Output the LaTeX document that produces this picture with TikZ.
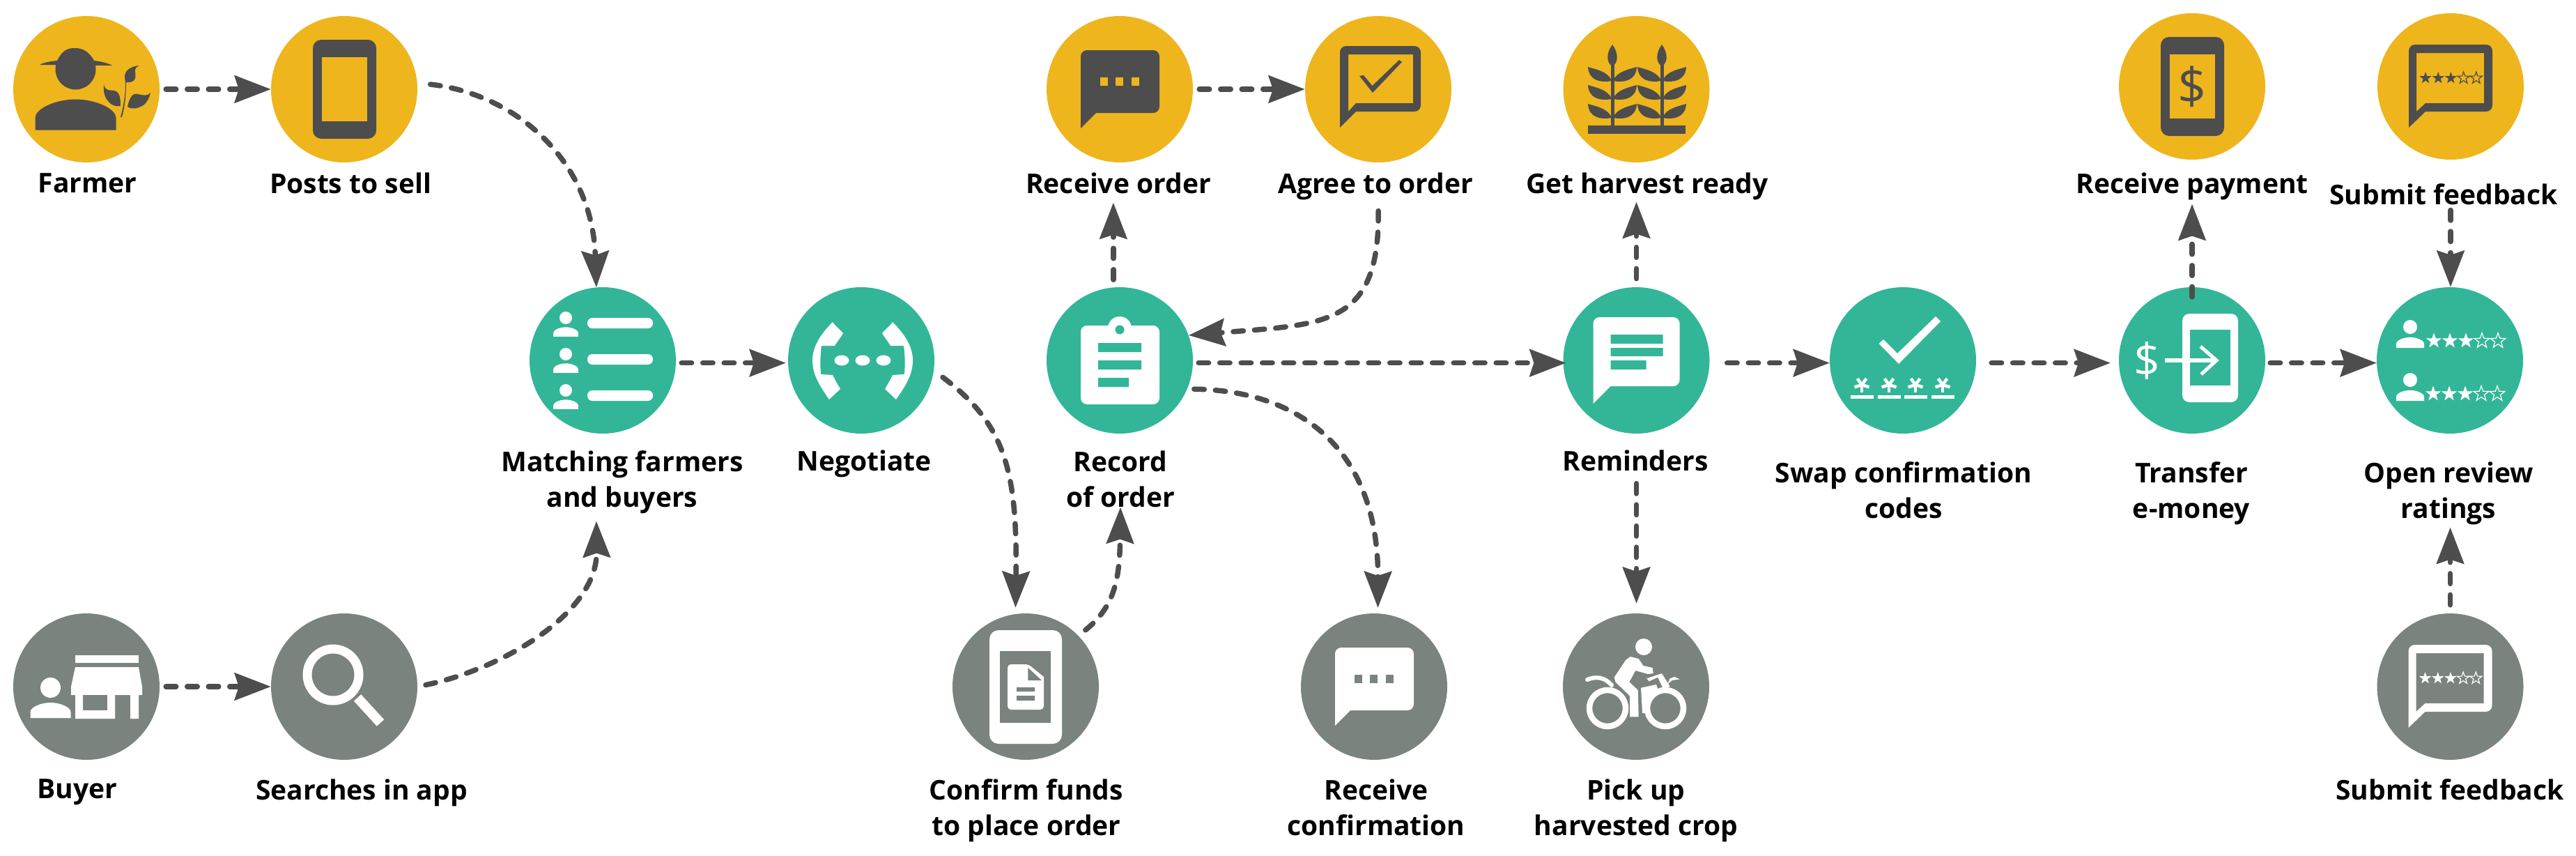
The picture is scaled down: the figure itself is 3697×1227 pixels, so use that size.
\documentclass[tikz,border=0pt]{standalone}
\usepackage{fontspec}
\setmainfont{Open Sans}
\usetikzlibrary{arrows.meta}
\definecolor{cropyellow}{HTML}{EEB51D}
\definecolor{appgreen}{HTML}{32B697}
\definecolor{buyergray}{HTML}{7A837E}
\definecolor{darkicon}{HTML}{4D4D4D}
\tikzset{
  stepdot/.style={circle,minimum size=210pt,inner sep=0pt},
  farmerstep/.style={stepdot,fill=cropyellow},
  buyerstep/.style={stepdot,fill=buyergray},
  appstep/.style={stepdot,fill=appgreen},
  steplabel/.style={font=\fontsize{39}{51}\selectfont\bfseries,align=center,inner sep=0pt,anchor=base},
  flow/.style={draw=darkicon,line width=7.5pt,dash pattern=on 14.5pt off 16pt,line cap=round,
    -{Stealth[length=52pt,width=39pt,inset=6pt,fill=darkicon]}},
}
\newcommand{\personicon}[4]{\fill[#4,shift={(#1,#2)},scale=#3] (0,0) circle (14.5)
  (-29,43.5) -- (-29,35) .. controls (-29,28) and (-14,21.5) .. (0,21.5) .. controls (14,21.5) and (29,28) .. (29,35) -- (29,43.5) -- cycle;}
\newcommand{\bubblepath}[6]{(#1,#6) [rounded corners=9pt] -- (#1,#2) -- (#3,#2) -- (#3,#4) [sharp corners] -- (#5,#4) -- cycle}
\newcommand{\starpath}{(90:1) -- (126:.4) -- (162:1) -- (198:.4) -- (234:1) -- (270:.4) -- (306:1) -- (342:.4) -- (18:1) -- (54:.4) -- cycle}
\newcommand{\ratestars}[5]{\foreach \k in {0,...,4} {
    \begin{scope}[shift={({#1+\k*#3},#2)},yscale=-1,scale=#4]
      \ifnum\k<3 \fill[#5] \starpath; \else \draw[#5,line width=1.2pt] \starpath; \fi
    \end{scope}}}
\newcommand{\dotbubble}[2]{\fill[#1] \bubblepath{-56}{-56}{57}{34}{-34}{56};
  \foreach \x in {-28,-6,17} \fill[#2] (\x,-17) rectangle (\x+11,-5);}
\newcommand{\feedbackicon}[1]{\fill[#1,even odd rule] \bubblepath{-60}{-60}{60}{36}{-36}{59}
    (-49,36) -- (-49,-48) -- (48,-48) -- (48,24) -- (-36,24) -- cycle;
  \ratestars{-36}{-12}{18.2}{9}{#1}}
\newcommand{\phoneicon}{\fill[darkicon,rounded corners=12pt] (-45,-71) rectangle (46,71);
  \fill[cropyellow] (-32,-46) rectangle (33,46);}
\newcommand{\wheatleaf}{(-35,0) .. controls (-26,3) and (-6,6) .. (-1,20) .. controls (-16,23) and (-34,20) .. (-35,0) -- cycle}
\begin{document}
\begin{tikzpicture}[x=1pt,y=-1pt]
  \useasboundingbox (0,0) rectangle (3697,1227);

  \node[farmerstep] (farmer) at (124,128) {};
  \node[farmerstep] (posts) at (494,128) {};
  \node[farmerstep] (recvorder) at (1607,128) {};
  \node[farmerstep] (agree) at (1978,128) {};
  \node[farmerstep] (harvest) at (2348.5,128) {};
  \node[farmerstep] (payment) at (3146,124) {};
  \node[farmerstep] (topfeedback) at (3517,124) {};
  \node[appstep] (matching) at (865,517) {};
  \node[appstep] (negotiate) at (1236,517) {};
  \node[appstep] (record) at (1607,517) {};
  \node[appstep] (reminders) at (2348.5,517) {};
  \node[appstep] (swap) at (2731,517) {};
  \node[appstep] (transfer) at (3146,517) {};
  \node[appstep] (openreview) at (3516,517) {};
  \node[buyerstep] (buyer) at (124,985) {};
  \node[buyerstep] (searches) at (494,985) {};
  \node[buyerstep] (confirm) at (1472,985) {};
  \node[buyerstep] (recvconfirm) at (1972,985) {};
  \node[buyerstep] (pickup) at (2348,985) {};
  \node[buyerstep] (botfeedback) at (3516.5,985) {};

  \node[steplabel] (farmerlbl) at (125.5,276) {Farmer};
  \node[steplabel] (postslbl) at (503,277) {Posts to sell};
  \node[steplabel] (recvorderlbl) at (1605,277) {Receive order};
  \node[steplabel] (agreelbl) at (1974,277) {Agree to order};
  \node[steplabel] (harvestlbl) at (2364,277) {Get harvest ready};
  \node[steplabel] (paymentlbl) at (3146,277) {Receive payment};
  \node[steplabel] (topfeedbacklbl) at (3507,293) {Submit feedback};
  \node[steplabel] (matchinglbl) at (893,727) {Matching farmers\\and buyers};
  \node[steplabel] (negotiatelbl) at (1240,675) {Negotiate};
  \node[steplabel] (recordlbl) at (1608,727) {Record\\of order};
  \node[steplabel] (reminderslbl) at (2347,675) {Reminders};
  \node[steplabel] (swaplbl) at (2732,743) {Swap confirmation\\codes};
  \node[steplabel] (transferlbl) at (3145,743) {Transfer\\e-money};
  \node[steplabel] (openlbl) at (3514,743) {Open review\\ratings};
  \node[steplabel] (buyerlbl) at (111,1145) {Buyer};
  \node[steplabel] (searcheslbl) at (519,1147) {Searches in app};
  \node[steplabel] (confirmlbl) at (1473,1198) {Confirm funds\\to place order};
  \node[steplabel] (recvconfirmlbl) at (1975,1198) {Receive\\confirmation};
  \node[steplabel] (pickuplbl) at (2348,1198) {Pick up\\harvested crop};
  \node[steplabel] (botfeedbacklbl) at (3516,1147) {Submit feedback};

  \begin{scope}[shift={(farmer.center)}]
    \personicon{-15.5}{-28.5}{2}{darkicon}
    \fill[darkicon] (-67,-35) .. controls (-60,-39) and (-50,-40) .. (-42,-41) .. controls (-35,-55) and (-28,-59) .. (-17,-59)
      .. controls (-6,-59) and (3,-55) .. (11,-41) .. controls (20,-40) and (30,-38) .. (37,-34) -- cycle;
    \fill[darkicon] (51,40) .. controls (55,25) and (57,10) .. (57,-10) .. controls (68,-9) and (72,-14) .. (70,-24)
      .. controls (69,-30) and (72,-32) .. (76,-34) .. controls (65,-33) and (55,-28) .. (55,-18) -- (56,-8)
      .. controls (56,10) and (53,25) .. (49,40) -- cycle;
    \fill[darkicon] (25,-7) .. controls (27,3) and (33,1) .. (40,2) .. controls (47,4) and (49,10) .. (49,24)
      .. controls (43,25) and (37,24) .. (32,18) .. controls (26,12) and (24,3) .. (25,-7) -- cycle;
    \fill[darkicon] (92,5) .. controls (88,10) and (82,9) .. (74,7) .. controls (66,5) and (62,12) .. (59,25)
      .. controls (66,30) and (74,27) .. (80,24) .. controls (87,20) and (90,13) .. (92,5) -- cycle;
  \end{scope}
  \begin{scope}[shift={(posts.center)}]
    \phoneicon
  \end{scope}
  \begin{scope}[shift={(recvorder.center)}]
    \dotbubble{darkicon}{cropyellow}
  \end{scope}
  \begin{scope}[shift={(agree.center)}]
    \fill[darkicon,even odd rule] \bubblepath{-55}{-62}{61}{32}{-32}{55}
      (-43,32) -- (-43,-50) -- (50,-50) -- (50,20) -- (-32,20) -- cycle;
    \fill[darkicon] (-27,-19) -- (-8,5) -- (34,-39) -- (30,-42) -- (-8.5,-5) -- (-21,-20) -- cycle;
  \end{scope}
  \begin{scope}[shift={(harvest.center)}]
    \fill[darkicon] (-69.5,52) rectangle (70.5,64);
    \foreach \sx in {-34.5,36.5} {
      \fill[darkicon] (\sx-2.5,-35) rectangle (\sx+2.5,52);
      \fill[darkicon] (\sx,-64) .. controls (\sx+9,-52) and (\sx+9,-38) .. (\sx,-33) .. controls (\sx-9,-38) and (\sx-9,-52) .. (\sx,-64) -- cycle;
      \foreach \ly in {-32,-6,21} {
        \begin{scope}[shift={(\sx,\ly)}]
          \fill[darkicon] \wheatleaf;
          \begin{scope}[xscale=-1]
            \fill[darkicon] \wheatleaf;
          \end{scope}
        \end{scope}
      }
    }
  \end{scope}
  \begin{scope}[shift={(payment.center)}]
    \phoneicon
    \node[font=\fontsize{72}{72}\selectfont,text=darkicon,inner sep=0pt] (paydollar) at (0,0) {\$};
  \end{scope}
  \begin{scope}[shift={(topfeedback.center)}]
    \feedbackicon{darkicon}
  \end{scope}

  \begin{scope}[shift={(matching.center)}]
    \foreach \y in {-61,-9,43} {
      \personicon{-53}{\y}{.62}{white}
      \fill[white,rounded corners=7pt] (-22,\y) rectangle (72,\y+15);
    }
  \end{scope}
  \begin{scope}[shift={(negotiate.center)}]
    \foreach \x in {-28,2,32} \fill[white] (\x,0) ellipse (10.5 and 7.5);
    \fill[white] (-41,-55) .. controls (-36,-48) and (-30,-44) .. (-26,-39) .. controls (-30,-32) and (-34,-28) .. (-38,-21)
      -- (-57,-21) .. controls (-59,-5) and (-59,5) .. (-58,20) -- (-41,21) .. controls (-38,28) and (-34,34) .. (-30,41) -- (-46,56)
      .. controls (-60,36) and (-70,20) .. (-70,0) .. controls (-70,-20) and (-58,-38) .. (-41,-55) -- cycle;
    \begin{scope}[xshift=4pt,xscale=-1]
      \fill[white] (-41,-55) .. controls (-36,-48) and (-30,-44) .. (-26,-39) .. controls (-30,-32) and (-34,-28) .. (-38,-21)
        -- (-57,-21) .. controls (-59,-5) and (-59,5) .. (-58,20) -- (-41,21) .. controls (-38,28) and (-34,34) .. (-30,41) -- (-46,56)
        .. controls (-60,36) and (-70,20) .. (-70,0) .. controls (-70,-20) and (-58,-38) .. (-41,-55) -- cycle;
    \end{scope}
  \end{scope}
  \begin{scope}[shift={(record.center)}]
    \fill[white,rounded corners=9pt] (-56,-50) rectangle (57,63);
    \fill[white] (0,-46) circle (17);
    \fill[appgreen] (0,-44) circle (6.5);
    \fill[appgreen] (-31,-25) rectangle (31,-12) (-31,0) rectangle (31,13) (-31,25) rectangle (13,38);
  \end{scope}
  \begin{scope}[shift={(reminders.center)}]
    \fill[white] \bubblepath{-62}{-62}{62}{37}{-37}{62};
    \fill[appgreen] (-37,-37) rectangle (38,-24) (-37,-18) rectangle (38,-6) (-37,0) rectangle (14,13);
  \end{scope}
  \begin{scope}[shift={(swap.center)}]
    \fill[white] (-34.5,-24) -- (-6,5) -- (54,-56) -- (47,-63) -- (-8,-10) -- (-28,-30) -- cycle;
    \foreach \x in {-59,-20,18,57} {
      \fill[white] (\x-16.5,50) rectangle (\x+16.5,55);
      \foreach \a in {90,162,234,306,18}
        \draw[white,line width=4.5pt] (\x,35) -- ++(\a:11);
    }
  \end{scope}
  \begin{scope}[shift={(transfer.center)}]
    \fill[white,rounded corners=10pt] (-14,-67) rectangle (66,60);
    \fill[appgreen] (-3,-44) rectangle (55,36);
    \node[font=\fontsize{66}{66}\selectfont,text=white,inner sep=0pt] (xferdollar) at (-65,0) {\$};
    \draw[white,line width=6pt] (-39,0) -- (33,0);
    \draw[white,line width=5pt] (12,-20) -- (35,0) -- (13,20);
  \end{scope}
  \begin{scope}[shift={(openreview.center)}]
    \personicon{-57}{-48}{.69}{white}
    \personicon{-57}{28}{.69}{white}
    \ratestars{-23}{-28}{23}{11.5}{white}
    \ratestars{-24}{48}{23}{11.5}{white}
  \end{scope}

  \begin{scope}[shift={(buyer.center)}]
    \personicon{-51.5}{1.5}{1}{white}
    \fill[white] (-16,-45) rectangle (75,-34);
    \fill[white] (-16,-28) -- (75,-28) -- (80,0) -- (80,12) -- (-22,12) -- (-22,0) -- cycle;
    \fill[white] (-16,12) rectangle (41,46) (63,12) rectangle (75,46);
    \fill[buyergray] (-5,12) rectangle (30,34);
  \end{scope}
  \begin{scope}[shift={(searches.center)}]
    \draw[white,line width=13pt] (-16,-17) circle (37);
    \draw[white,line width=14pt] (19,16) -- (52,52);
  \end{scope}
  \begin{scope}[shift={(confirm.center)}]
    \fill[white,rounded corners=13pt] (-52,-81) rectangle (52,82);
    \fill[buyergray] (-37,-51) rectangle (36,52);
    \fill[white,rounded corners=5pt] (-26,33) -- (-26,-32) -- (4,-32) [sharp corners] -- (26,-14) [rounded corners=5pt] -- (26,33) -- cycle;
    \fill[buyergray] (3.4,-27) -- (3.4,-9) -- (23,-9) -- cycle;
    \fill[buyergray] (-13,1) rectangle (13,7) (-13,13) rectangle (13,20);
  \end{scope}
  \begin{scope}[shift={(recvconfirm.center)}]
    \dotbubble{white}{buyergray}
  \end{scope}
  \begin{scope}[shift={(pickup.center)}]
    \fill[white] (11,-57) circle (12);
    \draw[white,line width=8.5pt] (-41,31) circle (26) (42,31) circle (26);
    \draw[white,line width=6pt,line cap=round] (-70,-10) .. controls (-58,-15) and (-45,-14) .. (-35,-2);
    \fill[white] (-8,-43) -- (3.7,-40) -- (10.3,-30) -- (23.7,-27) -- (24.7,-19) -- (17,-18) -- (-.7,-23) -- (-9.7,-6.7)
      -- (2.7,5) -- (3.7,43.3) -- (-9,43.3) -- (-9,13.3) -- (-29.7,-6.7) -- (-31.3,-13.3) -- (-14.7,-38.3) -- cycle;
    \fill[white] (7,1.7) -- (29,-3) -- (31,3) -- (19,12) -- (14,38) -- (9,38) -- cycle;
    \fill[white] (15.3,-11.7) -- (37,-19) -- (48.7,0) -- (38.7,2.7) -- (31.3,-13.3) -- (18.7,-7.7) -- cycle;
    \fill[white] (44.7,-3.3) -- (48.7,-11.7) -- (55.3,-14) -- (62.7,-10.7) -- (52,-9) -- cycle;
  \end{scope}
  \begin{scope}[shift={(botfeedback.center)}]
    \feedbackicon{white}
  \end{scope}

  \draw[flow,shorten <=9pt] (farmer) -- (posts);
  \draw[flow,shorten <=9pt] (buyer) -- (searches);
  \draw[flow,shorten <=19pt] (posts.5) .. controls (740,135) and (850,230) .. (matching.95);
  \draw[flow,shorten <=12pt,shorten >=11pt] (searches.0) .. controls (720,960) and (857,880) .. (matchinglbl.south -| matching.95);
  \draw[flow,shorten <=8pt,shorten >=3pt] (matching.-2) -- (negotiate.182);
  \draw[flow,shorten <=16pt,shorten >=9pt] (negotiate.-8) .. controls (1445,610) and (1460,680) .. (confirm.98);
  \draw[flow,shorten <=13pt] (confirm.44) .. controls (1600,870) and (1607,830) .. (recordlbl.south);
  \draw[flow,shorten <=11pt,shorten >=13pt] (record.95) -- (record.95 |- recvorderlbl.south);
  \draw[flow,shorten <=9pt] (recvorder) -- (agree);
  \draw[flow,shorten <=16pt] (agree.south |- agreelbl.south) .. controls (1980,470) and (1900,465) .. (record.20);
  \draw[flow,shorten <=8pt,shorten >=-4pt] (record.-2) -- (reminders.182);
  \draw[flow,shorten <=10pt,shorten >=8pt] (record.-23) .. controls (1860,560) and (1978,640) .. (recvconfirm.87);
  \draw[flow,shorten <=12pt,shorten >=3pt] (reminders.north) -- (reminders.north |- harvestlbl.south);
  \draw[flow,shorten <=18pt,shorten >=14pt] (reminders.south |- reminderslbl.south) -- (reminders.south |- pickup.north);
  \draw[flow,shorten <=25pt] (reminders.-2) -- (swap.182);
  \draw[flow,shorten <=22pt,shorten >=12pt] (swap.-2) -- (transfer.182);
  \draw[flow,shorten <=7pt] (transfer.-2) -- (openreview.182);
  \draw[flow,shorten <=-14pt,shorten >=6pt] (transfer.north) -- (transfer.north |- paymentlbl.south);
  \draw[flow,shorten <=8pt] (topfeedback.south |- topfeedbacklbl.south) -- (topfeedback.south |- openreview.north);
  \draw[flow,shorten <=12pt,shorten >=4pt] (botfeedback.north) -- (botfeedback.north |- openlbl.south);
\end{tikzpicture}
\end{document}
